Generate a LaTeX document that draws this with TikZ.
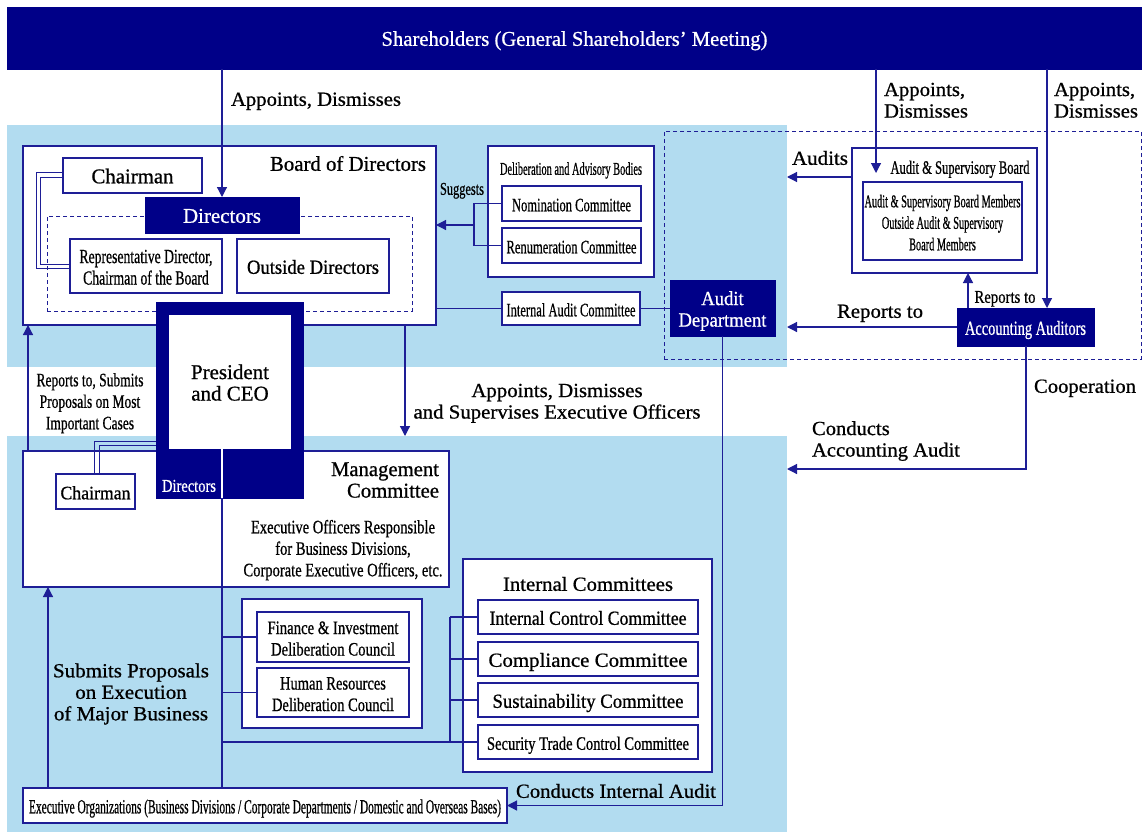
\documentclass[tikz,border=0pt]{standalone}
\usepackage{fontspec}
\setmainfont{Liberation Serif}[FakeBold=0.8]
\usepackage{graphicx}
\usetikzlibrary{arrows.meta}
\definecolor{navy}{RGB}{0,0,136}
\definecolor{edge}{RGB}{30,30,150}
\definecolor{panel}{RGB}{178,220,240}
\newcommand\st[4][c]{\resizebox{#2pt}{\height}{\fontsize{#3}{21.5}\selectfont\raisebox{-3.5pt}[\height][\depth]{\begin{tabular}{@{}#1@{}}#4\end{tabular}}}}
\newcommand\bx[7][box]{\node[#1, minimum width={#5-#3}, minimum height={#6-#4}] (#2) at ({(#3+#5)/2},{(#4+#6)/2}) {#7};}
\tikzset{
  box/.style={draw=edge, line width=1.2pt, fill=white, inner sep=0pt, outer sep=0pt},
  navybox/.style={fill=navy, draw=navy, text=white, inner sep=0pt, outer sep=0pt},
  dashbox/.style={draw=edge, line width=1pt, dash pattern=on 4pt off 3pt, inner sep=0pt, outer sep=0pt},
  ln/.style={draw=edge, line width=1.2pt},
  arr/.style={ln, -{Triangle[length=10pt,width=10pt]}},
  lbl/.style={inner sep=0pt, outer sep=0pt}
}
\begin{document}
\begin{tikzpicture}[x=1pt,y=-1pt]
\useasboundingbox (0,0) rectangle (1142,832);
\fill[white] (0,0) rectangle (1142,832);
\fill[panel] (7,125) rectangle (787,367);
\fill[panel] (7,436) rectangle (787,832);
% shareholders
\bx[navybox]{sh}{7}{7}{1142}{69}{\st{386}{21}{Shareholders (General Shareholders’ Meeting)}}
\bx[dashbox]{az}{664}{131}{1141}{359}{}
% board of directors
\bx{board}{23}{146}{436}{325}{}
\node[lbl, anchor=east] (tboard) at (426,163) {\st{156}{21}{Board of Directors}};
\bx{chair}{63}{158}{202}{193}{\st{82}{21}{Chairman}}
\bx[dashbox]{dirzone}{47}{216}{412}{311}{}
\bx[navybox]{dir}{145}{197}{299}{233}{\st{78}{21}{Directors}}
\bx{rep}{70}{239}{222}{293}{\st{133}{20}{Representative Director,\\Chairman of the Board}}
\bx{out}{237}{239}{389}{293}{\st{132}{20}{Outside Directors}}
% deliberation
\bx{delib}{488}{146}{654}{277}{}
\node[lbl] (tdelib) at (571,167) {\st{142}{18}{Deliberation and Advisory Bodies}};
\bx{nom}{502}{186}{641}{221}{\st{119}{19}{Nomination Committee}}
\bx{ren}{502}{228}{641}{263}{\st{130}{19}{Renumeration Committee}}
\bx{iac}{502}{292}{640}{325}{\st{129}{19}{Internal Audit Committee}}
\bx[navybox]{aud}{670}{280}{775}{336}{\st{88}{20}{Audit\\Department}}
% audit & supervisory board
\bx{asb}{852}{148}{1037}{273}{}
\node[lbl] (tasb) at (960,166) {\st{139}{19}{Audit \& Supervisory Board}};
\bx{asbm}{863}{182}{1022}{260}{\st{156}{18}{Audit \& Supervisory Board Members\\Outside Audit \& Supervisory\\Board Members}}
\bx[navybox]{acc}{957}{308}{1094}{346}{\st{121}{20}{Accounting Auditors}}
% management committee
\bx{mgmt}{23}{451}{449}{587}{}
\node[lbl, anchor=east] (tmgmt) at (439,479) {\st[r]{108}{21}{Management\\Committee}};
\bx{chairb}{56}{474}{135}{509}{\st{70}{19}{Chairman}}
\node[lbl] (texo) at (343,547) {\st{199}{19}{Executive Officers Responsible\\for Business Divisions,\\Corporate Executive Officers, etc.}};
\bx{delc}{242}{599}{422}{728}{}
\bx{fin}{257}{612}{409}{662}{\st{131}{19}{Finance \& Investment\\Deliberation Council}}
\bx{hr}{257}{668}{409}{717}{\st{122}{19}{Human Resources\\Deliberation Council}}
\bx{icom}{463}{559}{712}{772}{}
\node[lbl] (ticom) at (588,583) {\st{170}{20}{Internal Committees}};
\bx{icc}{478}{600}{698}{634}{\st{197}{20}{Internal Control Committee}}
\bx{comp}{478}{642}{698}{676}{\st{199}{20}{Compliance Committee}}
\bx{sus}{478}{683}{698}{717}{\st{191}{20}{Sustainability Committee}}
\bx{sec}{478}{725}{698}{759}{\st{202}{19}{Security Trade Control Committee}}
\bx{exec}{23}{788}{507}{823}{\st{472}{20}{Executive Organizations (Business Divisions / Corporate Departments / Domestic and Overseas Bases)}}
% double connectors chairman
\draw[ln, line width=1pt] (chair.west |- 0,172) -- (36,172) -- (36,268) -- (rep.west |- 0,268);
\draw[ln, line width=1pt] (chair.west |- 0,177) -- (40,177) -- (40,264) -- (rep.west |- 0,264);
\draw[ln, line width=1pt] (156,441) -- (94,441) -- (chairb.north -| 94,0);
\draw[ln, line width=1pt] (156,445) -- (99,445) -- (chairb.north -| 99,0);
% president
\bx[navybox]{pres}{156}{302}{303}{498}{}
\bx[box, draw=none]{ceo}{169}{315}{291}{449}{\st{78}{21}{President\\and CEO}}
\node[lbl, text=white] (tdirb) at (189,484) {\st{54}{18}{Directors}};
\draw[white, line width=1.2pt] (ceo.south -| 222,0) -- (pres.south -| 222,0);
% connectors
\draw[arr] (dir.north |- sh.south) -- (dir.north);
\draw[arr] (sh.south -| 876,0) -- (876,173);
\draw[arr] (sh.south -| 1047,0) -- (acc.north -| 1047,0);
\draw[ln] (nom.west) -- (474,0 |- nom.west) -- (474,0 |- ren.west) -- (ren.west);
\draw[arr] (474,225) -- (board.east |- 0,225);
\draw[ln] (board.east |- iac.west) -- (iac.west);
\draw[ln] (iac.east) -- (aud.west |- iac.east);
\draw[arr] (asb.west |- 0,177) -- (787,177);
\draw[arr] (acc.north -| 968,0) -- (asb.south -| 968,0);
\draw[arr] (acc.west) -- (787,0 |- acc.west);
\draw[arr] (acc.south -| 1026,0) -- (1026,469) -- (787,469);
\draw[arr] (aud.south) -- (aud.south |- exec.east) -- (exec.east);
\draw[arr] (board.south -| 405,0) -- (405,436);
\draw[arr] (mgmt.north -| 28,0) -- (board.south -| 28,0);
\draw[arr] (exec.north -| 48,0) -- (mgmt.south -| 48,0);
\draw[ln] (pres.south -| 222,0) -- (exec.north -| 222,0);
\draw[ln] (fin.west -| 222,0) -- (fin.west);
\draw[ln] (hr.west -| 222,0) -- (hr.west);
\draw[ln] (sec.west -| 222,0) -- (sec.west);
\draw[ln] (icc.west -| 450,0) -- (sec.west -| 450,0);
\draw[ln] (icc.west -| 450,0) -- (icc.west);
\draw[ln] (comp.west -| 450,0) -- (comp.west);
\draw[ln] (sus.west -| 450,0) -- (sus.west);
% labels
\node[lbl, anchor=west] (l1) at (231,98) {\st{170}{20}{Appoints, Dismisses}};
\node[lbl, anchor=west] (l2) at (884,99) {\st[l]{84}{20}{Appoints,\\Dismisses}};
\node[lbl, anchor=west] (l3) at (1054,99) {\st[l]{84}{20}{Appoints,\\Dismisses}};
\node[lbl] (l4) at (462,187) {\st{44}{18}{Suggests}};
\node[lbl] (l5) at (820,157) {\st{56}{20}{Audits}};
\node[lbl] (l6) at (1005,295) {\st{61}{18}{Reports to}};
\node[lbl] (l7) at (880,310) {\st{86}{20}{Reports to}};
\node[lbl] (l8) at (1085,385) {\st{102}{20}{Cooperation}};
\node[lbl, anchor=west] (l9) at (812,438) {\st[l]{148}{20}{Conducts\\Accounting Audit}};
\node[lbl] (l10) at (557,400) {\st{287}{20}{Appoints, Dismisses\\and Supervises Executive Officers}};
\node[lbl] (l11) at (90,400) {\st{107}{19}{Reports to, Submits\\Proposals on Most\\Important Cases}};
\node[lbl] (l12) at (131,691) {\st{156}{20}{Submits Proposals\\on Execution\\of Major Business}};
\node[lbl] (l13) at (616,790) {\st{200}{20}{Conducts Internal Audit}};
\end{tikzpicture}
\end{document}
